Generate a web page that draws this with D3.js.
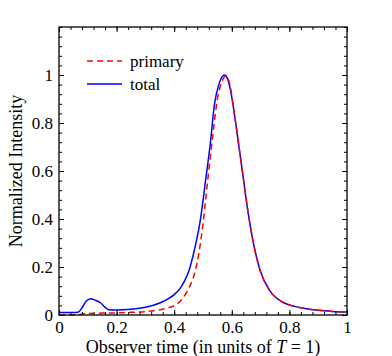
<!DOCTYPE html>
<html>
<head>
  <style>
    body { margin: 0; background: #fff; }
    svg text { font-family: "Liberation Serif", "Times New Roman", serif; }
  </style>
  <script src="https://cdn.jsdelivr.net/npm/d3@7/dist/d3.min.js"></script>
</head>
<body>
<script>
  // time samples and normalized intensity for the total curve
  const tTotal = [0, 0.05, 0.065, 0.08, 0.095, 0.11, 0.125, 0.145, 0.16, 0.172, 0.2, 0.25, 0.3, 0.35, 0.38, 0.4, 0.42, 0.435, 0.45, 0.47, 0.49, 0.51, 0.525, 0.54, 0.555, 0.565, 0.575, 0.585, 0.595, 0.61, 0.625, 0.64, 0.655, 0.675, 0.7, 0.73, 0.77, 0.8, 0.85, 0.9, 0.95, 1.0];
  const total  = [0.01, 0.01, 0.011, 0.03, 0.058, 0.068, 0.062, 0.05, 0.032, 0.022, 0.021, 0.024, 0.032, 0.05, 0.068, 0.085, 0.11, 0.14, 0.18, 0.27, 0.39, 0.57, 0.71, 0.88, 0.96, 0.99, 1.0, 0.985, 0.94, 0.83, 0.7, 0.57, 0.44, 0.3, 0.18, 0.105, 0.058, 0.042, 0.028, 0.02, 0.015, 0.012];

  // primary curve
  const tPrimary = [0, 0.06, 0.09, 0.15, 0.2, 0.25, 0.3, 0.35, 0.38, 0.41, 0.43, 0.45, 0.47, 0.49, 0.5, 0.51, 0.52, 0.535, 0.55, 0.565, 0.578, 0.59, 0.61, 0.625, 0.64, 0.655, 0.675, 0.7, 0.73, 0.77, 0.8, 0.85, 0.9, 0.95, 1.0];
  const primary  = [0.0, 0.0, 0.006, 0.008, 0.009, 0.011, 0.014, 0.022, 0.03, 0.046, 0.07, 0.11, 0.17, 0.29, 0.38, 0.49, 0.6, 0.76, 0.9, 0.97, 0.995, 0.975, 0.83, 0.7, 0.57, 0.44, 0.3, 0.18, 0.105, 0.058, 0.042, 0.028, 0.02, 0.015, 0.012];

  const xTicks = [0, 0.2, 0.4, 0.6, 0.8, 1];
  const xTickLabels = ["0", "0.2", "0.4", "0.6", "0.8", "1"];
  const yTicks = [0, 0.2, 0.4, 0.6, 0.8, 1];
  const yTickLabels = ["0", "0.2", "0.4", "0.6", "0.8", "1"];
  const xMinor = d3.range(0, 1.0001, 0.04);
  const yMinor = d3.range(0, 1.2001, 0.04);

  const serif = '"Liberation Serif", "Times New Roman", serif';

  const margin = {top: 27, right: 45, bottom: 41, left: 59},
        width = 392, height = 356,
        w = width - margin.left - margin.right,
        h = height - margin.top - margin.bottom;

  const svg = d3.select("body").append("svg")
      .attr("width", width)
      .attr("height", height)
      .attr("font-family", serif);
  const g = svg.append("g")
      .attr("transform", "translate(" + margin.left + "," + margin.top + ")");

  const x = d3.scaleLinear().domain([0, 1]).range([0, w]);
  const y = d3.scaleLinear().domain([0, 1.2]).range([h, 0]);

  function styleAxis(sel) {
    sel.attr("font-family", serif).attr("font-size", 17);
    sel.select(".domain").remove();
    sel.selectAll("line").attr("stroke", "#000").attr("stroke-width", 1);
    sel.selectAll("text").attr("fill", "#000");
  }

  // major ticks with labels (bottom, left)
  g.append("g").attr("transform", "translate(0," + h + ")")
      .call(d3.axisBottom(x).tickValues(xTicks).tickSize(-5).tickPadding(6)
        .tickFormat((d, i) => xTickLabels[i]))
      .call(styleAxis);
  g.append("g")
      .call(d3.axisLeft(y).tickValues(yTicks).tickSize(-5).tickPadding(6)
        .tickFormat((d, i) => yTickLabels[i]))
      .call(styleAxis);
  // major ticks on top and right
  g.append("g").call(d3.axisTop(x).tickValues(xTicks).tickSize(-5).tickFormat(""))
      .call(styleAxis);
  g.append("g").attr("transform", "translate(" + w + ",0)")
      .call(d3.axisRight(y).tickValues(yTicks).tickSize(-5).tickFormat(""))
      .call(styleAxis);
  // minor ticks
  g.append("g").attr("transform", "translate(0," + h + ")")
      .call(d3.axisBottom(x).tickValues(xMinor).tickSize(-3).tickFormat("")).call(styleAxis);
  g.append("g").call(d3.axisTop(x).tickValues(xMinor).tickSize(-3).tickFormat("")).call(styleAxis);
  g.append("g").call(d3.axisLeft(y).tickValues(yMinor).tickSize(-3).tickFormat("")).call(styleAxis);
  g.append("g").attr("transform", "translate(" + w + ",0)")
      .call(d3.axisRight(y).tickValues(yMinor).tickSize(-3).tickFormat("")).call(styleAxis);

  const line = d3.line()
      .x(d => x(d[0]))
      .y(d => y(d[1]))
      .curve(d3.curveMonotoneX);

  g.append("path")
      .datum(tTotal.map((t, i) => [t, total[i]]))
      .attr("fill", "none")
      .attr("stroke", "#0000ff")
      .attr("stroke-width", 1.5)
      .attr("d", line);

  g.append("path")
      .datum(tPrimary.map((t, i) => [t, primary[i]]))
      .attr("fill", "none")
      .attr("stroke", "#ff0000")
      .attr("stroke-width", 1.5)
      .attr("stroke-dasharray", "6,4")
      .attr("d", line);

  // frame
  g.append("rect")
      .attr("width", w).attr("height", h)
      .attr("fill", "none").attr("stroke", "#000").attr("stroke-width", 1.3);

  // legend
  const legend = [{name: "primary", color: "#ff0000", dash: "6,4"},
                  {name: "total", color: "#0000ff", dash: null}];
  legend.forEach((d, i) => {
    const ly = 61 + i * 23;
    svg.append("line")
        .attr("x1", 87).attr("x2", 122).attr("y1", ly).attr("y2", ly)
        .attr("stroke", d.color).attr("stroke-width", 1.5)
        .attr("stroke-dasharray", d.dash);
    svg.append("text")
        .attr("x", 130).attr("y", ly + 5.5)
        .attr("font-size", 17)
        .text(d.name);
  });

  // axis labels
  const xl = svg.append("text")
      .attr("x", margin.left + w / 2).attr("y", 353)
      .attr("text-anchor", "middle")
      .attr("font-size", 18);
  xl.append("tspan").text("Observer time (in units of ");
  xl.append("tspan").attr("font-style", "italic").text("T");
  xl.append("tspan").text(" = 1)");

  svg.append("text")
      .attr("transform", "translate(22," + (margin.top + h / 2) + ") rotate(-90)")
      .attr("text-anchor", "middle")
      .attr("font-size", 18)
      .text("Normalized Intensity");
</script>
</body>
</html>
